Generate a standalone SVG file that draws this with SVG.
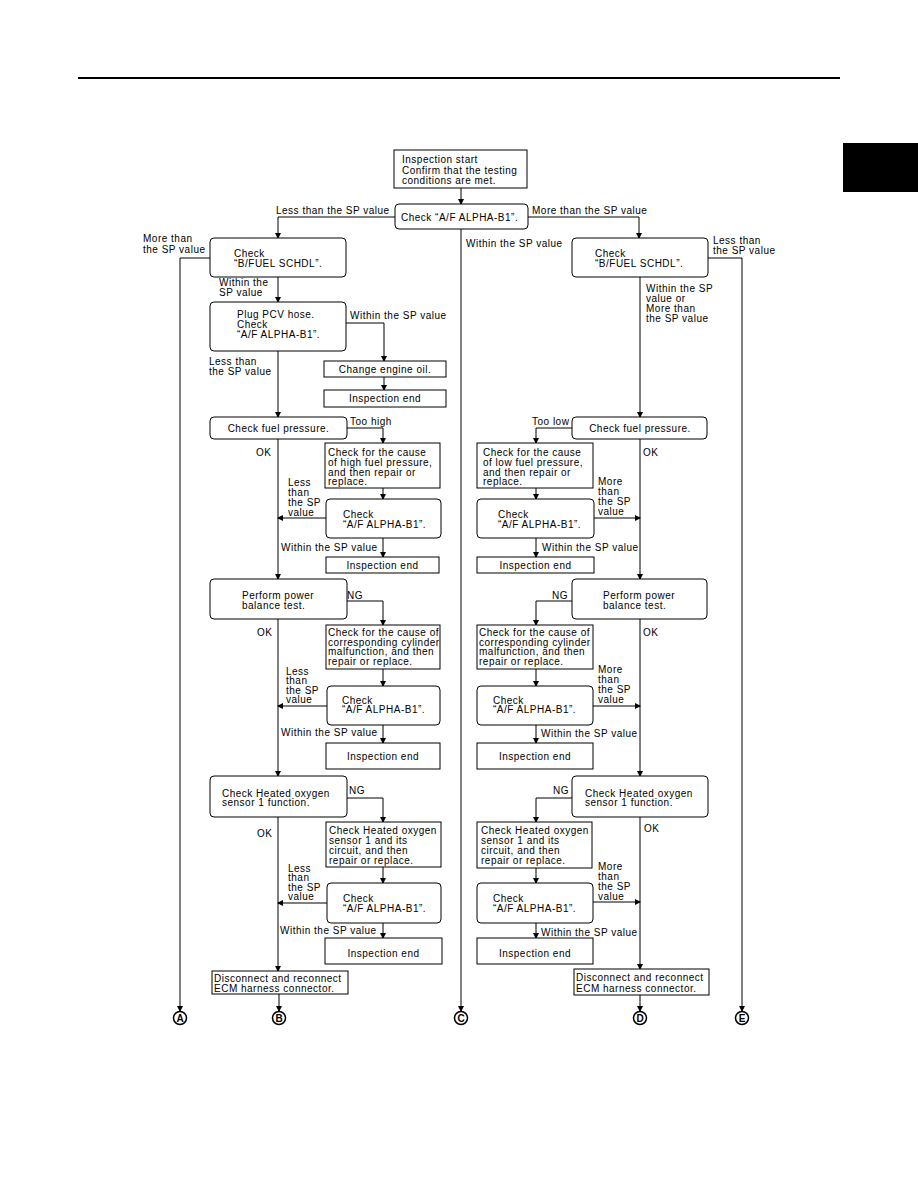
<svg xmlns="http://www.w3.org/2000/svg" width="918" height="1188" viewBox="0 0 918 1188">
<style>
text{font-family:"Liberation Sans",Arial,sans-serif;font-size:10px;letter-spacing:0.5px;fill:#000}
.c{text-anchor:middle}
.b{fill:#fff;stroke:#000;stroke-width:1}
.w{fill:none;stroke:#000;stroke-width:1}
.ci{fill:#fff;stroke:#000;stroke-width:1.5}
.cl{font-weight:bold;font-size:10px;letter-spacing:0;text-anchor:middle}
</style>
<defs>
<marker id="ah" markerWidth="6" markerHeight="6" refX="5" refY="3" orient="auto" markerUnits="userSpaceOnUse">
<path d="M0,0 L6,3 L0,6 Z" fill="#000"/>
</marker>
</defs>
<rect x="78" y="77" width="762" height="2" fill="#000"/>
<rect x="843" y="143" width="75" height="49" fill="#000"/>

<g id="connectors" class="w" marker-end="url(#ah)">
<path d="M461,188 V204"/>
<path d="M395,217 H278 V238"/>
<path d="M528,217 H639 V238"/>
<path d="M461,229 V1011"/>
<path d="M210,258 H180 V1011"/>
<path d="M278,277 V302"/>
<path d="M708,258 H742 V1011"/>
<path d="M640,277 V417"/>
<path d="M346,323 H384 V361"/>
<path d="M384,377 V390"/>
<path d="M278,351 V417"/>
<path d="M347,428 H383 V443"/>
<path d="M383,488 V499"/>
<path d="M326,518 H278"/>
<path d="M383,538 V557"/>
<path d="M278,439 V579"/>
<path d="M347,601 H383 V625"/>
<path d="M383,669 V686"/>
<path d="M327,706 H278"/>
<path d="M383,725 V743"/>
<path d="M278,619 V776"/>
<path d="M347,798 H383 V822"/>
<path d="M383,867 V883"/>
<path d="M327,903 H278"/>
<path d="M383,923 V938"/>
<path d="M278,817 V971"/>
<path d="M279,994 V1011"/>
<path d="M572,428 H536 V443"/>
<path d="M536,488 V499"/>
<path d="M594,518 H640"/>
<path d="M536,538 V557"/>
<path d="M640,439 V579"/>
<path d="M572,601 H536 V625"/>
<path d="M536,669 V686"/>
<path d="M593,706 H640"/>
<path d="M536,725 V743"/>
<path d="M640,619 V776"/>
<path d="M572,798 H536 V822"/>
<path d="M536,868 V883"/>
<path d="M593,902 H640"/>
<path d="M536,923 V938"/>
<path d="M640,817 V969"/>
<path d="M640,995 V1011"/>
</g>

<g id="labels">
<text x="276" y="213.5">Less than the SP value</text>
<text x="532" y="213.5">More than the SP value</text>
<text x="466" y="246.5">Within the SP value</text>
<text x="143" y="241.5">More than</text><text x="143" y="252.5">the SP value</text>
<text x="713" y="243.5">Less than</text><text x="713" y="253.5">the SP value</text>
<text x="219" y="286">Within the</text><text x="219" y="296">SP value</text>
<text x="646" y="291.5">Within the SP</text><text x="646" y="301.5">value or</text><text x="646" y="311.5">More than</text><text x="646" y="321.5">the SP value</text>
<text x="350" y="318.5">Within the SP value</text>
<text x="209" y="364.5">Less than</text><text x="209" y="374.5">the SP value</text>
<text x="350" y="424.5">Too high</text>
<text x="256" y="455.5">OK</text>
<text x="288" y="485.5">Less</text><text x="288" y="495.5">than</text><text x="288" y="505.5">the SP</text><text x="288" y="515.5">value</text>
<text x="281" y="550.5">Within the SP value</text>
<text x="532" y="424.5">Too low</text>
<text x="643" y="455.5">OK</text>
<text x="598" y="484.5">More</text><text x="598" y="494.5">than</text><text x="598" y="504.5">the SP</text><text x="598" y="514.5">value</text>
<text x="542" y="550.5">Within the SP value</text>
<text x="347" y="598.5">NG</text>
<text x="257" y="635.5">OK</text>
<text x="286" y="674.5">Less</text><text x="286" y="684">than</text><text x="286" y="693.5">the SP</text><text x="286" y="702.5">value</text>
<text x="281" y="735.5">Within the SP value</text>
<text x="552" y="598.5">NG</text>
<text x="643" y="635.5">OK</text>
<text x="598" y="672.5">More</text><text x="598" y="682.5">than</text><text x="598" y="692.5">the SP</text><text x="598" y="702.5">value</text>
<text x="541" y="736.5">Within the SP value</text>
<text x="349" y="793.5">NG</text>
<text x="257" y="836.5">OK</text>
<text x="288" y="871.5">Less</text><text x="288" y="881">than</text><text x="288" y="890.5">the SP</text><text x="288" y="899.5">value</text>
<text x="280" y="933.5">Within the SP value</text>
<text x="553" y="793.5">NG</text>
<text x="644" y="831.5">OK</text>
<text x="598" y="869.5">More</text><text x="598" y="879.5">than</text><text x="598" y="889.5">the SP</text><text x="598" y="899.5">value</text>
<text x="541" y="935.5">Within the SP value</text>
</g>

<g id="start"><rect class="b" x="394" y="150" width="133" height="38"/>
<text x="402" y="163">Inspection start</text><text x="402" y="173.5">Confirm that the testing</text><text x="402" y="183.5">conditions are met.</text></g>
<g id="checkAF"><rect class="b" x="395" y="204" width="133" height="25" rx="4"/>
<text x="401" y="221">Check “A/F ALPHA-B1”.</text></g>
<g id="leftBF"><rect class="b" x="210" y="238" width="136" height="39" rx="4"/>
<text x="234" y="256.5">Check</text><text x="234" y="266.5">“B/FUEL SCHDL”.</text></g>
<g id="rightBF"><rect class="b" x="572" y="238" width="136" height="39" rx="4"/>
<text x="595" y="256.5">Check</text><text x="595" y="266.5">“B/FUEL SCHDL”.</text></g>
<g id="pcv"><rect class="b" x="210" y="302" width="136" height="49" rx="4"/>
<text x="237" y="317.5">Plug PCV hose.</text><text x="237" y="327.5">Check</text><text x="237" y="337.5">“A/F ALPHA-B1”.</text></g>
<g id="changeOil"><rect class="b" x="324" y="361" width="122" height="16"/>
<text class="c" x="385" y="373">Change engine oil.</text></g>
<g id="end1"><rect class="b" x="324" y="390" width="122" height="17"/>
<text class="c" x="385" y="402">Inspection end</text></g>

<g id="fuelL"><rect class="b" x="210" y="417" width="137" height="22" rx="4"/>
<text class="c" x="278.5" y="432">Check fuel pressure.</text></g>
<g id="highCause"><rect class="b" x="325" y="443" width="115" height="45"/>
<text x="328" y="455.5">Check for the cause</text><text x="328" y="465.5">of high fuel pressure,</text><text x="328" y="475.5">and then repair or</text><text x="328" y="485">replace.</text></g>
<g id="checkL1"><rect class="b" x="326" y="499" width="115" height="39" rx="4"/>
<text x="343" y="517.5">Check</text><text x="343" y="527.5">“A/F ALPHA-B1”.</text></g>
<g id="endL1"><rect class="b" x="326" y="557" width="113" height="16"/>
<text class="c" x="382.5" y="569">Inspection end</text></g>

<g id="fuelR"><rect class="b" x="572" y="417" width="135" height="22" rx="4"/>
<text class="c" x="640" y="432">Check fuel pressure.</text></g>
<g id="lowCause"><rect class="b" x="477" y="443" width="116" height="45"/>
<text x="483" y="455.5">Check for the cause</text><text x="483" y="465.5">of low fuel pressure,</text><text x="483" y="475.5">and then repair or</text><text x="483" y="485">replace.</text></g>
<g id="checkR1"><rect class="b" x="477" y="499" width="117" height="39" rx="4"/>
<text x="498" y="517.5">Check</text><text x="498" y="527.5">“A/F ALPHA-B1”.</text></g>
<g id="endR1"><rect class="b" x="477" y="557" width="117" height="16"/>
<text class="c" x="535.5" y="569">Inspection end</text></g>

<g id="powerL"><rect class="b" x="210" y="579" width="137" height="40" rx="4"/>
<text x="242" y="598.5">Perform power</text><text x="242" y="608.5">balance test.</text></g>
<g id="cylL"><rect class="b" x="326" y="625" width="114" height="44"/>
<text x="328" y="635.5">Check for the cause of</text><text x="328" y="645.5">corresponding cylinder</text><text x="328" y="655">malfunction, and then</text><text x="328" y="664.5">repair or replace.</text></g>
<g id="checkL2"><rect class="b" x="327" y="686" width="113" height="39" rx="4"/>
<text x="342" y="703.5">Check</text><text x="342" y="713">“A/F ALPHA-B1”.</text></g>
<g id="endL2"><rect class="b" x="326" y="743" width="114" height="26"/>
<text class="c" x="383" y="760">Inspection end</text></g>

<g id="powerR"><rect class="b" x="572" y="579" width="135" height="40" rx="4"/>
<text x="603" y="598.5">Perform power</text><text x="603" y="608.5">balance test.</text></g>
<g id="cylR"><rect class="b" x="477" y="625" width="116" height="44"/>
<text x="479" y="635.5">Check for the cause of</text><text x="479" y="645.5">corresponding cylinder</text><text x="479" y="655">malfunction, and then</text><text x="479" y="664.5">repair or replace.</text></g>
<g id="checkR2"><rect class="b" x="477" y="686" width="116" height="39" rx="4"/>
<text x="493" y="703.5">Check</text><text x="493" y="713">“A/F ALPHA-B1”.</text></g>
<g id="endR2"><rect class="b" x="477" y="743" width="116" height="26"/>
<text class="c" x="535" y="760">Inspection end</text></g>

<g id="heatL"><rect class="b" x="210" y="776" width="137" height="41" rx="4"/>
<text x="222" y="796.5">Check Heated oxygen</text><text x="222" y="805.5">sensor 1 function.</text></g>
<g id="heatCircL"><rect class="b" x="326" y="822" width="115" height="45"/>
<text x="329" y="833.5">Check Heated oxygen</text><text x="329" y="843.5">sensor 1 and its</text><text x="329" y="853.5">circuit, and then</text><text x="329" y="863.5">repair or replace.</text></g>
<g id="checkL3"><rect class="b" x="327" y="883" width="114" height="40" rx="4"/>
<text x="343" y="901.5">Check</text><text x="343" y="911.5">“A/F ALPHA-B1”.</text></g>
<g id="endL3"><rect class="b" x="325" y="938" width="117" height="26"/>
<text class="c" x="383.5" y="956.5">Inspection end</text></g>

<g id="heatR"><rect class="b" x="572" y="776" width="136" height="41" rx="4"/>
<text x="585" y="796.5">Check Heated oxygen</text><text x="585" y="805.5">sensor 1 function.</text></g>
<g id="heatCircR"><rect class="b" x="477" y="822" width="115" height="46"/>
<text x="481" y="833.5">Check Heated oxygen</text><text x="481" y="843.5">sensor 1 and its</text><text x="481" y="853.5">circuit, and then</text><text x="481" y="863.5">repair or replace.</text></g>
<g id="checkR3"><rect class="b" x="477" y="883" width="116" height="40" rx="4"/>
<text x="493" y="901.5">Check</text><text x="493" y="911.5">“A/F ALPHA-B1”.</text></g>
<g id="endR3"><rect class="b" x="477" y="938" width="116" height="26"/>
<text class="c" x="535" y="956.5">Inspection end</text></g>

<g id="discL"><rect class="b" x="212" y="971" width="136" height="23"/>
<text x="214" y="981.5">Disconnect and reconnect</text><text x="214" y="991.5">ECM harness connector.</text></g>
<g id="discR"><rect class="b" x="574" y="969" width="135" height="26"/>
<text x="576" y="981">Disconnect and reconnect</text><text x="576" y="991.5">ECM harness connector.</text></g>

<g id="A"><circle class="ci" cx="180" cy="1018" r="6.5"/><text class="cl" x="180" y="1021.5">A</text></g>
<g id="B"><circle class="ci" cx="279" cy="1018" r="6.5"/><text class="cl" x="279" y="1021.5">B</text></g>
<g id="C"><circle class="ci" cx="461" cy="1018" r="6.5"/><text class="cl" x="461" y="1021.5">C</text></g>
<g id="D"><circle class="ci" cx="640" cy="1018" r="6.5"/><text class="cl" x="640" y="1021.5">D</text></g>
<g id="E"><circle class="ci" cx="742" cy="1018" r="6.5"/><text class="cl" x="742" y="1021.5">E</text></g>
</svg>
